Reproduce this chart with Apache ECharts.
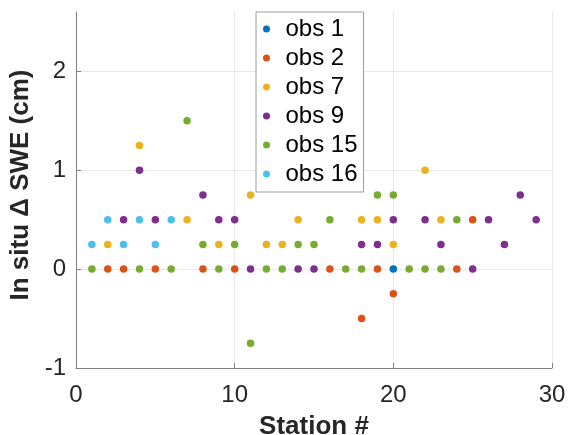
<!DOCTYPE html>
<html>
<head>
<meta charset="utf-8">
<script src="https://cdn.jsdelivr.net/npm/echarts@6/dist/echarts.min.js"></script>
<style>html,body{margin:0;padding:0;background:#fff;}#c{width:568px;height:435px;}</style>
</head>
<body>
<div id="c"></div>
<script>
var seriesNames = ['obs 1', 'obs 2', 'obs 7', 'obs 9', 'obs 15', 'obs 16'];
var obs1X = [20];
var obs1Y = [0];
var obs2X = [2, 3, 5, 8, 10, 16, 18, 19, 20, 24, 25];
var obs2Y = [0, 0, 0, 0, 0, 0, -0.5, 0, -0.25, 0, 0.5];
var obs7X = [2, 4, 7, 9, 11, 12, 13, 14, 18, 19, 20, 22, 23];
var obs7Y = [0.25, 1.25, 0.5, 0.25, 0.75, 0.25, 0.25, 0.5, 0.5, 0.5, 0.25, 1.0, 0.5];
var obs9X = [3, 4, 5, 8, 9, 10, 11, 14, 15, 18, 19, 20, 22, 23, 25, 26, 27, 28, 29];
var obs9Y = [0.5, 1.0, 0.5, 0.75, 0.5, 0.5, 0, 0, 0, 0.25, 0.25, 0.5, 0.5, 0.25, 0, 0.5, 0.25, 0.75, 0.5];
var obs15X = [1, 4, 6, 7, 8, 9, 10, 11, 12, 13, 14, 15, 16, 17, 18, 19, 20, 21, 22, 23, 24];
var obs15Y = [0, 0, 0, 1.5, 0.25, 0, 0.25, -0.75, 0, 0, 0.25, 0.25, 0.5, 0, 0, 0.75, 0.75, 0, 0, 0, 0.5];
var obs16X = [1, 2, 3, 4, 5, 6];
var obs16Y = [0.25, 0.5, 0.25, 0.5, 0.25, 0.5];
var xTicks = [0, 10, 20, 30];
var yTicks = [-1, 0, 1, 2];

var colors = ['#0072BD', '#D95319', '#EDB120', '#7E2F8E', '#77AC30', '#4DBEEE'];
var xs = [obs1X, obs2X, obs7X, obs9X, obs15X, obs16X];
var ys = [obs1Y, obs2Y, obs7Y, obs9Y, obs15Y, obs16Y];

function pairs(a, b) { return a.map(function (v, i) { return [v, b[i]]; }); }

var font = 'Liberation Sans, Arial, Helvetica, sans-serif';
var chart = echarts.init(document.getElementById('c'));
chart.setOption({
  animation: false,
  color: colors,
  grid: { left: 76, right: 16, top: 12, bottom: 67, containLabel: false, outerBoundsMode: 'none' },
  legend: {
    left: 256, top: 12, orient: 'vertical',
    data: seriesNames,
    icon: 'circle', itemWidth: 28, itemHeight: 7, itemGap: 5,
    padding: [5, 6, 6, 7],
    borderColor: '#9a9a9a', borderWidth: 1, backgroundColor: '#fff',
    textStyle: { fontFamily: font, fontSize: 24, color: '#000', lineHeight: 24 }
  },
  xAxis: {
    type: 'value', min: 0, max: 30, interval: 10,
    name: 'Station #', nameLocation: 'middle', nameGap: 46,
    nameTextStyle: { fontFamily: font, fontSize: 26, fontWeight: 'bold', color: '#262626' },
    axisLine: { show: true, onZero: false, lineStyle: { color: '#808080', width: 1 } },
    axisTick: { show: true, inside: true, length: 5, lineStyle: { color: '#808080' } },
    axisLabel: { fontFamily: font, fontSize: 24, color: '#262626', margin: 15,
      formatter: function (v) { return xTicks.indexOf(v) >= 0 ? String(v) : ''; } },
    splitLine: { show: true, lineStyle: { color: '#e8e8e8', width: 1 } }
  },
  yAxis: {
    type: 'value', min: -1, max: 2.6, interval: 1,
    name: 'In situ \u0394 SWE (cm)', nameLocation: 'middle', nameGap: 40,
    nameTextStyle: { fontFamily: font, fontSize: 26, fontWeight: 'bold', color: '#262626', padding: [0, 0, 0, 10] },
    axisLine: { show: true, onZero: false, lineStyle: { color: '#808080', width: 1 } },
    axisTick: { show: true, inside: true, length: 5, lineStyle: { color: '#808080' } },
    axisLabel: { fontFamily: font, fontSize: 24, color: '#262626', margin: 10, showMaxLabel: false,
      formatter: function (v) { return yTicks.indexOf(v) >= 0 ? String(v) : ''; } },
    splitLine: { show: true, showMaxLine: false, showMinLine: false, lineStyle: { color: '#e8e8e8', width: 1 } }
  },
  series: seriesNames.map(function (n, i) {
    return {
      name: n, type: 'scatter', symbol: 'circle', symbolSize: 7.5,
      itemStyle: { color: colors[i], opacity: 1 },
      data: pairs(xs[i], ys[i]), z: 2 + i
    };
  })
});
</script>
</body>
</html>
